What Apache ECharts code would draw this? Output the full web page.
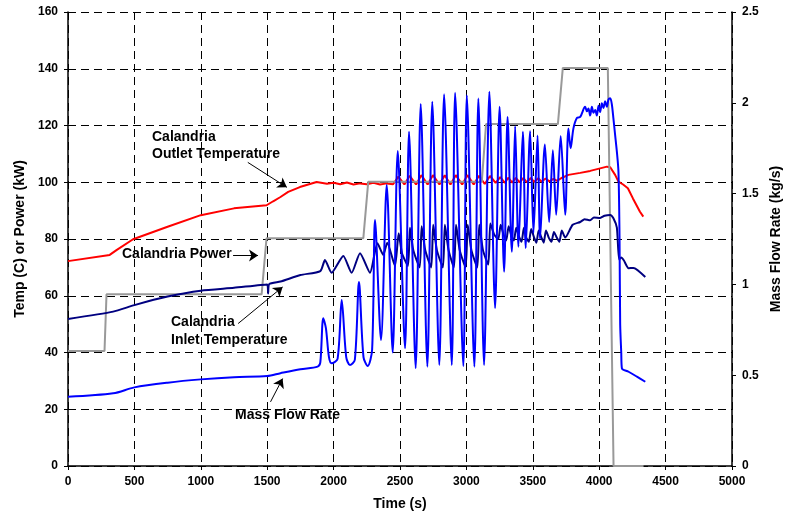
<!DOCTYPE html>
<html>

	<head>
		<meta charset="UTF-8">
		<title></title>
		<script src="https://cdn.jsdelivr.net/npm/echarts@6/dist/echarts.min.js"></script>
	</head>

	<body style="margin:0;background:#fff;">
		<div id="main" style="width: 788px;height:515px;"></div>

		<script type="text/javascript">
			// calandria outlet temperature (C)
			var outletTime = [0, 314, 365, 490, 750, 1000, 1250, 1495, 1545, 1600, 1658, 1746, 1872, 1950, 2000, 2050, 2100, 2150, 2200, 2250, 2300, 2350, 2400, 2448,
				2488, 2533, 2573, 2621, 2661, 2708, 2748, 2797, 2837, 2880, 2920, 2968, 3008, 3055, 3095, 3138, 3178, 3220, 3255, 3290, 3315, 3345, 3372, 3400,
				3430, 3455, 3485, 3510, 3541, 3566, 3596, 3625, 3656, 3683, 3713, 3768, 3857, 3932, 4007, 4058, 4083, 4095, 4120, 4145, 4180, 4216, 4254, 4307, 4332];
			var outletTemp = [72.2, 74.4, 76.1, 79.9, 84.3, 88.4, 90.8, 91.9, 93.3, 94.8, 96.6, 98.3, 100.1, 99.5, 99.8, 99.3, 99.9, 99.2, 99.6, 99.3, 99.8, 99.2, 99.6, 99.3,
				102, 99.2, 102.3, 99.2, 102.5, 99.2, 102.5, 99.2, 102.5, 99.2, 102.5, 99.2, 102.5, 99.2, 102.3, 99.4, 102.2, 99.8, 101.8, 99.8, 101.6, 99.9, 101.5, 100,
				101.5, 100, 101.5, 100.1, 101.4, 100.2, 101.3, 100.3, 101.2, 100.5, 101.4, 102.6, 103.3, 104, 104.9, 105.5, 105.3, 104.9, 102.6, 100.2, 99.2, 97.9, 94.3, 89.6, 87.9];

			// calandria power (kW)
			var powerTime = [0, 275, 290, 1458, 1495, 2224, 2261, 3116, 3148, 3689, 3726, 4065, 4108, 4334];
			var powerKW = [40.5, 40.5, 60.5, 60.5, 80.3, 80.3, 100.2, 100.2, 120.5, 120.5, 140.3, 140.3, 0, 0];

			// calandria inlet temperature (C)
			var inletTime = [0, 340, 500, 750, 1000, 1250, 1500, 1507, 1515, 1600, 1750, 1900, 1935, 1985, 2073, 2136, 2199, 2274, 2330, 2374, 2404, 2462,
				2490, 2515, 2560, 2575, 2600, 2648, 2663, 2690, 2735, 2750, 2778, 2823, 2838, 2866, 2906, 2922, 2950, 2994, 3010, 3038, 3082, 3097, 3125, 3165,
				3180, 3210, 3240, 3258, 3280, 3300, 3318, 3340, 3358, 3375, 3395, 3415, 3433, 3450, 3470, 3488, 3510, 3527, 3544, 3565, 3582,
				3599, 3620, 3640, 3659, 3680, 3700, 3718, 3744, 3800, 3857, 3890, 3932, 3960, 4007, 4040, 4083, 4107, 4133, 4150, 4165, 4185, 4221, 4258, 4347];
			var inletTemp = [51.8, 54.4, 56.7, 59.7, 61.8, 62.8, 64.0, 60.8, 64.1, 65, 67.3, 68.7, 72.6, 68.1, 74, 68.1, 75, 68.1, 78.5, 74.4, 78.7, 70.5,
				82, 75, 70.5, 84, 76, 70, 84.5, 76, 70, 85, 76, 70, 85, 76, 70, 85, 76, 70, 85, 76, 70, 85, 76, 71,
				85.5, 81.5, 80, 85, 81.5, 79.5, 84.5, 81, 79.5, 84, 81, 79, 84, 80.5, 79, 83.5, 80.5, 78.7, 83, 80.5, 78.7,
				83, 80.5, 79, 82.5, 80.5, 79, 83, 80.5, 85, 86, 87, 86.6, 87.6, 87.4, 88.2, 88.5, 87.3, 84, 72.8, 73.5, 72.5, 69.7, 69.8, 66.6];

			// mass flow rate (kg/s)
			var flowTime = [0, 340, 500, 750, 1000, 1250, 1500, 1600, 1750, 1880, 1900, 1922, 1942, 1965, 1985, 2030, 2061, 2095, 2123, 2160, 2191, 2225, 2257,
				2290, 2312, 2357, 2400,
				2445, 2483, 2538, 2568, 2618, 2656, 2706, 2743, 2796, 2832, 2890, 2915, 2977, 3003, 3060, 3090, 3133, 3173, 3216, 3250,
				3284, 3310, 3342, 3367, 3392, 3425, 3447, 3480, 3505, 3536, 3555, 3591, 3623, 3651, 3676, 3710, 3744, 3768, 3785, 3806,
				3832, 3857, 3894, 3907, 3919, 3932, 3945, 3957, 3970, 3982, 3995, 4007, 4020, 4032, 4045, 4058, 4070, 4083, 4095, 4107,
				4120, 4133, 4145, 4153, 4158, 4166, 4171, 4221, 4284, 4347];
			var flowRate = [0.381, 0.400, 0.433, 0.459, 0.477, 0.489, 0.495, 0.511, 0.533, 0.547, 0.570, 0.814, 0.759, 0.600, 0.566, 0.590, 0.914, 0.600, 0.556, 0.585, 1.013, 0.600, 0.550,
				0.640, 1.355, 0.694, 1.547,
				0.625, 1.734, 0.648, 1.841, 0.539, 1.994, 0.547, 2.006, 0.556, 2.047, 0.556, 2.055, 0.550, 2.042, 0.547, 2.023, 0.556, 2.061, 0.870, 1.978,
				1.070, 1.922, 1.180, 1.872, 1.208, 1.841, 1.200, 1.844, 1.283, 1.820, 1.250, 1.770, 1.344, 1.739, 1.383, 1.817, 1.383, 1.859, 1.750, 1.859,
				1.916, 1.922, 1.978, 1.953, 1.969, 1.930, 1.978, 1.945, 1.961, 1.930, 1.984, 1.950, 1.997, 1.972, 2.008, 1.978, 2.019, 2.025, 1.992, 1.914,
				1.822, 1.731, 1.620, 1.266, 0.781, 0.625, 0.538, 0.519, 0.492, 0.464];

			var font = 'Liberation Sans';

			function pairs(xs, ys) {
				var out = [];
				for(var i = 0; i < xs.length; i++) {
					out.push([xs[i], ys[i]]);
				}
				return out;
			}

			// arrow from label to curve, in data coords (left axis)
			function arrow(x1, y1, x2, y2) {
				return [{ coord: [x1, y1], symbol: 'none' }, { coord: [x2, y2], symbol: 'arrow' }];
			}

			function label(text, x, y) {
				return {
					type: 'text',
					left: x,
					top: y,
					style: { text: text, fill: '#000', fontSize: 14, fontWeight: 'bold', fontFamily: font }
				};
			}

			var axisText = { color: '#000', fontSize: 12, fontWeight: 'bold', fontFamily: font };
			var nameText = { color: '#000', fontSize: 14, fontWeight: 'bold', fontFamily: font };
			var dashed = { show: true, lineStyle: { color: '#000', type: [8, 5], width: 1 } };

			option = {
				animation: false,
				backgroundColor: '#fff',
				grid: { left: 68, right: 56, top: 12, bottom: 49, outerBoundsMode: 'none' },
				xAxis: {
					type: 'value',
					min: 0,
					max: 5000,
					interval: 500,
					name: 'Time (s)',
					nameLocation: 'middle',
					nameGap: 31,
					nameTextStyle: nameText,
					axisLine: { lineStyle: { color: '#000', width: 1.5 } },
					axisTick: { length: 4, lineStyle: { color: '#000' } },
					axisLabel: Object.assign({ margin: 10, formatter: function(v) { return String(v); } }, axisText),
					splitLine: dashed
				},
				yAxis: [{
					type: 'value',
					min: 0,
					max: 160,
					interval: 20,
					name: 'Temp (C) or Power (kW)',
					nameLocation: 'middle',
					nameGap: 35,
					nameTextStyle: nameText,
					axisLine: { show: true, lineStyle: { color: '#000', width: 1.5 } },
					axisTick: { show: true, length: 4, lineStyle: { color: '#000' } },
					axisLabel: Object.assign({ margin: 10 }, axisText),
					splitLine: dashed
				}, {
					type: 'value',
					min: 0,
					max: 2.5,
					interval: 0.5,
					name: 'Mass Flow Rate (kg/s)',
					nameLocation: 'middle',
					nameGap: 35,
					nameTextStyle: nameText,
					axisLine: { show: true, lineStyle: { color: '#000', width: 1.5 } },
					axisTick: { show: true, length: 4, lineStyle: { color: '#000' } },
					axisLabel: Object.assign({ margin: 10 }, axisText),
					splitLine: { show: false }
				}],
				series: [{
					name: 'Calandria Outlet Temperature',
					type: 'line',
					showSymbol: false,
					data: pairs(outletTime, outletTemp),
					lineStyle: { color: '#ff0000', width: 2 },
					itemStyle: { color: '#ff0000' },
					markLine: {
						silent: true,
						symbolSize: 9,
						label: { show: false },
						lineStyle: { color: '#000', type: 'solid', width: 1 },
						data: [
							arrow(1354, 107, 1648, 98.2),
							arrow(1243, 74.2, 1431, 74.2),
							arrow(1281, 50.2, 1616, 63.1),
							arrow(1525, 22.6, 1616, 30.8)
						]
					}
				}, {
					name: 'Calandria Power',
					type: 'line',
					showSymbol: false,
					data: pairs(powerTime, powerKW),
					lineStyle: { color: '#999999', width: 2 },
					itemStyle: { color: '#999999' }
				}, {
					name: 'Calandria Inlet Temperature',
					type: 'line',
					showSymbol: false,
					smooth: 0.2,
					data: pairs(inletTime, inletTemp),
					lineStyle: { color: '#000080', width: 2 },
					itemStyle: { color: '#000080' }
				}, {
					name: 'Mass Flow Rate',
					type: 'line',
					yAxisIndex: 1,
					showSymbol: false,
					smooth: 0.3,
					data: pairs(flowTime, flowRate),
					lineStyle: { color: '#0000ff', width: 2 },
					itemStyle: { color: '#0000ff' }
				}],
				graphic: [
					label('Calandria', 152, 130),
					label('Outlet Temperature', 152, 147),
					label('Calandria Power', 122, 247),
					label('Calandria', 171, 315),
					label('Inlet Temperature', 171, 333),
					label('Mass Flow Rate', 235, 408)
				]
			};

			echarts.init(document.getElementById('main')).setOption(option);
		</script>
	</body>

</html>
